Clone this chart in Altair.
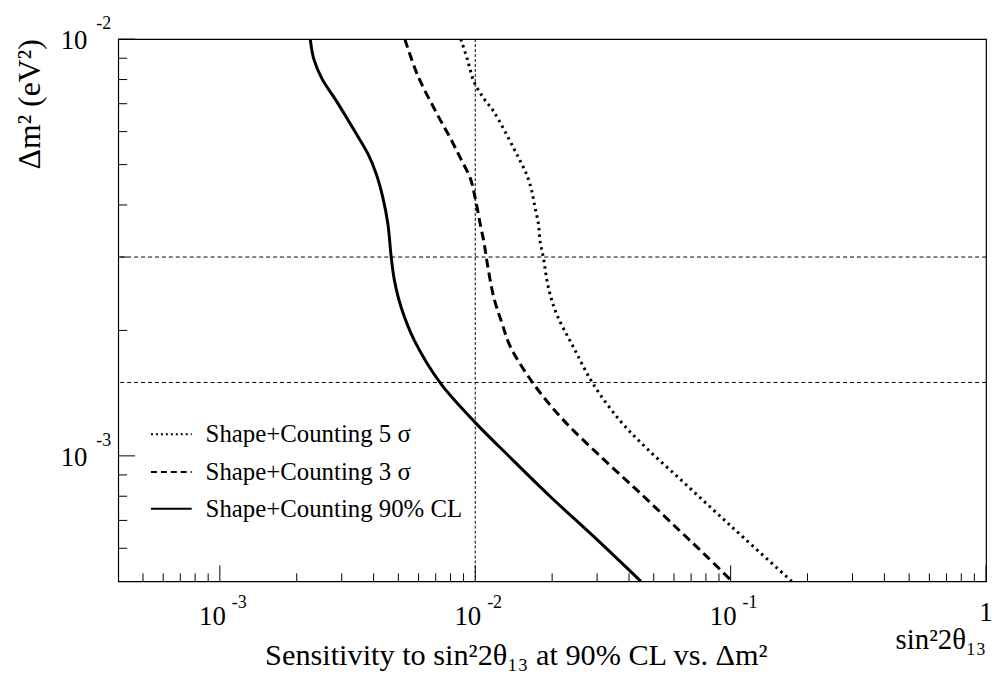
import altair as alt
import pandas as pd

# ---- data ----
x_90 = [0.00226, 0.00233, 0.00251, 0.00287, 0.00338, 0.00381, 0.00410, 0.00435, 0.00455,
        0.00469, 0.00483, 0.00513, 0.00578, 0.00733, 0.01003, 0.01371, 0.01961, 0.02977, 0.0445]
y_90 = [0.0100, 0.00898, 0.00804, 0.00708, 0.00600, 0.00529, 0.00474, 0.00416, 0.00360,
        0.00299, 0.00263, 0.00227, 0.00189, 0.00149, 0.00120, 0.000991, 0.000800, 0.000632, 0.0005]

x_3s = [0.00530, 0.00595, 0.00712, 0.00800, 0.00875, 0.00956, 0.01000, 0.01046, 0.01084,
        0.01113, 0.01182, 0.01273, 0.01371, 0.0169, 0.0221, 0.0316, 0.0452, 0.0627, 0.0796, 0.1013]
y_3s = [0.0100, 0.00819, 0.00658, 0.00578, 0.00518, 0.00464, 0.00415, 0.00360, 0.00323,
        0.00291, 0.00240, 0.00208, 0.00183, 0.00149, 0.00122, 0.000985, 0.000804, 0.000664,
        0.000578, 0.0005]

x_5s = [0.00877, 0.00931, 0.00989, 0.01081, 0.01182, 0.01413, 0.01522, 0.01591, 0.01665,
        0.01715, 0.01768, 0.01793, 0.01848, 0.01932, 0.02082, 0.02416, 0.02891, 0.03666,
        0.04656, 0.0627, 0.0845, 0.1138, 0.1734]
y_5s = [0.0100, 0.00896, 0.00790, 0.00720, 0.00670, 0.00548, 0.00501, 0.00473, 0.00432,
        0.00394, 0.00360, 0.00328, 0.00299, 0.00254, 0.00219, 0.00183, 0.00149, 0.00122,
        0.001047, 0.000885, 0.000747, 0.000632, 0.0005]

h_lines = [3.0e-3, 1.5e-3]
v_lines = [1.0e-2]

x_major = [1e-3, 1e-2, 1e-1, 1.0]
x_minor = [5e-4, 6e-4, 7e-4, 8e-4, 9e-4,
           2e-3, 3e-3, 4e-3, 5e-3, 6e-3, 7e-3, 8e-3, 9e-3,
           2e-2, 3e-2, 4e-2, 5e-2, 6e-2, 7e-2, 8e-2, 9e-2,
           0.2, 0.3, 0.4, 0.5, 0.6, 0.7, 0.8, 0.9]
x_exp_vals = [1e-3, 1e-2, 1e-1]
x_exp_text = ["-3", "-2", "-1"]

y_major = [1e-3, 1e-2]
y_minor = [6e-4, 7e-4, 8e-4, 9e-4, 2e-3, 3e-3, 4e-3, 5e-3, 6e-3, 7e-3, 8e-3, 9e-3]
y_exp_vals = [1e-3, 1e-2]
y_exp_text = ["-3", "-2"]

legend_labels = ["Shape+Counting 5 σ", "Shape+Counting 3 σ", "Shape+Counting 90% CL"]

FONT = "Liberation Serif"
W, H = 874, 546

xscale = alt.Scale(type="log", domain=[4e-4, 1.0], nice=False)
yscale = alt.Scale(type="log", domain=[5e-4, 1e-2], nice=False)


def curve(xs, ys, width, dash=None):
    df = pd.DataFrame({"x": xs, "y": ys, "i": list(range(len(xs)))})
    kw = dict(color="black", strokeWidth=width, clip=True, interpolate="catmull-rom")
    if dash is not None:
        kw["strokeDash"] = dash
    return alt.Chart(df).mark_line(**kw).encode(
        x=alt.X("x:Q", scale=xscale, axis=None),
        y=alt.Y("y:Q", scale=yscale, axis=None),
        order="i:Q",
    )


solid = curve(x_90, y_90, 3)
dashed = curve(x_3s, y_3s, 3, [9, 5])
dotted = curve(x_5s, y_5s, 3, [2.5, 4])

hl = alt.Chart(pd.DataFrame({"y": h_lines})).mark_rule(
    color="black", strokeWidth=1, strokeDash=[4, 3]
).encode(y=alt.Y("y:Q", scale=yscale, axis=None))
vl = alt.Chart(pd.DataFrame({"x": v_lines})).mark_rule(
    color="black", strokeWidth=1, strokeDash=[3, 2]
).encode(x=alt.X("x:Q", scale=xscale, axis=None))

# ticks (inside the frame, ROOT style)
xmaj = alt.Chart(pd.DataFrame({"x": x_major})).mark_rule(color="black", strokeWidth=1).encode(
    x=alt.X("x:Q", scale=xscale, axis=None), y=alt.value(H), y2=alt.value(H - 16))
xmin = alt.Chart(pd.DataFrame({"x": x_minor})).mark_rule(color="black", strokeWidth=1).encode(
    x=alt.X("x:Q", scale=xscale, axis=None), y=alt.value(H), y2=alt.value(H - 8))
ymaj = alt.Chart(pd.DataFrame({"y": y_major})).mark_rule(color="black", strokeWidth=1).encode(
    y=alt.Y("y:Q", scale=yscale, axis=None), x=alt.value(0), x2=alt.value(17))
ymin = alt.Chart(pd.DataFrame({"y": y_minor})).mark_rule(color="black", strokeWidth=1).encode(
    y=alt.Y("y:Q", scale=yscale, axis=None), x=alt.value(0), x2=alt.value(9))

# tick labels
xl_df = pd.DataFrame({"x": x_exp_vals, "e": x_exp_text})
xl10 = alt.Chart(xl_df).mark_text(text="10", font=FONT, fontSize=27, align="right",
                                  baseline="alphabetic", dx=6, color="black").encode(
    x=alt.X("x:Q", scale=xscale, axis=None), y=alt.value(H + 44))
xlexp = alt.Chart(xl_df).mark_text(font=FONT, fontSize=18, align="left",
                                   baseline="alphabetic", dx=12, color="black").encode(
    x=alt.X("x:Q", scale=xscale, axis=None), y=alt.value(H + 27), text="e:N")
xl1 = alt.Chart(pd.DataFrame({"x": [1.0]})).mark_text(text="1", font=FONT, fontSize=27, align="center",
                                                       baseline="alphabetic", color="black").encode(
    x=alt.X("x:Q", scale=xscale, axis=None), y=alt.value(H + 40))

yl_df = pd.DataFrame({"y": y_exp_vals, "e": y_exp_text})
yl10 = alt.Chart(yl_df).mark_text(text="10", font=FONT, fontSize=27, align="right",
                                  baseline="alphabetic", dy=10, color="black").encode(
    y=alt.Y("y:Q", scale=yscale, axis=None), x=alt.value(-31))
ylexp = alt.Chart(yl_df).mark_text(font=FONT, fontSize=18, align="left",
                                   baseline="alphabetic", dy=-10, color="black").encode(
    y=alt.Y("y:Q", scale=yscale, axis=None), x=alt.value(-22), text="e:N")

# titles
ytitle = alt.Chart(pd.DataFrame({"t": ["Δm² (eV²)"]})).mark_text(
    font=FONT, fontSize=32, angle=270, align="right", baseline="alphabetic", color="black"
).encode(x=alt.value(-79), y=alt.value(0), text="t:N")
xtitle = alt.Chart(pd.DataFrame({"t": ["Sensitivity to sin²2θ₁₃ at 90% CL vs. Δm²"]})).mark_text(
    font=FONT, fontSize=30.5, align="center", baseline="alphabetic", color="black"
).encode(x=alt.value(401), y=alt.value(630), text="t:N")
xname = alt.Chart(pd.DataFrame({"t": ["sin²2θ₁₃"]})).mark_text(
    font=FONT, fontSize=29, align="right", baseline="alphabetic", color="black"
).encode(x=alt.value(W), y=alt.value(614), text="t:N")

# legend
leg_rows = []
styles = [([2, 3], 2.0), ([6, 4], 2.0), (None, 2.0)]
ys_leg = [398, 436, 473]
for lab, (dash, wdt), yy in zip(legend_labels, styles, ys_leg):
    kw = dict(color="black", strokeWidth=wdt)
    if dash is not None:
        kw["strokeDash"] = dash
    leg_rows.append(alt.Chart(pd.DataFrame({"t": [lab]})).mark_rule(**kw).encode(
        x=alt.value(33), x2=alt.value(74), y=alt.value(yy)))
    leg_rows.append(alt.Chart(pd.DataFrame({"t": [lab]})).mark_text(
        font=FONT, fontSize=25, align="left", baseline="alphabetic", color="black"
    ).encode(x=alt.value(88), y=alt.value(yy + 8), text="t:N"))

chart = alt.layer(
    hl, vl, xmin, xmaj, ymin, ymaj, dotted, dashed, solid,
    xl10, xlexp, xl1, yl10, ylexp, ytitle, xtitle, xname, *leg_rows
).properties(
    width=W, height=H,
    autosize=alt.AutoSizeParams(type="none"),
    padding={"left": 111, "top": 29, "right": 6, "bottom": 94},
    background="white",
).configure_view(stroke="black", strokeWidth=1.2)

chart.save("out.html", embed_options={"renderer": "svg", "actions": False})
